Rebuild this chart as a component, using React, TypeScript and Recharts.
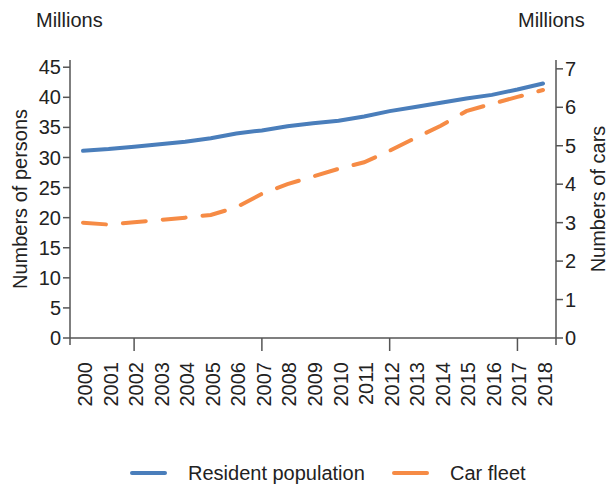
import { LineChart, Line, XAxis, YAxis, Label } from 'recharts';

const years = ['2000', '2001', '2002', '2003', '2004', '2005', '2006', '2007', '2008', '2009', '2010', '2011', '2012', '2013', '2014', '2015', '2016', '2017', '2018'];
const residentPopulation = [31.1, 31.4, 31.8, 32.2, 32.6, 33.2, 34.0, 34.5, 35.2, 35.7, 36.1, 36.8, 37.7, 38.4, 39.1, 39.8, 40.4, 41.3, 42.3];
const carFleet = [3.0, 2.95, 3.01, 3.07, 3.13, 3.2, 3.4, 3.75, 4.0, 4.2, 4.4, 4.57, 4.87, 5.2, 5.52, 5.9, 6.09, 6.27, 6.45];
const leftTicks = [0, 5, 10, 15, 20, 25, 30, 35, 40, 45];
const rightTicks = [0, 1, 2, 3, 4, 5, 6, 7];
const markedYears = ['2002', '2007', '2012', '2017'];

const FONT = '"Liberation Sans", Arial, sans-serif';
const TEXT = '#222';
const AXIS = '#555';
const BLUE = '#4a7ebb';
const ORANGE = '#f68b45';
const PAD = 13;

const data = years.map((year, i) => ({
  year,
  population: residentPopulation[i],
  cars: carFleet[i],
}));

function YearTick({ x, y, payload, index }: any) {
  const marked = markedYears.includes(payload.value);
  // the y axes run a little past the x axis, like the original
  let edge = null;
  if (index === 0) edge = x - PAD;
  if (index === years.length - 1) edge = x + PAD;
  return (
    <g>
      {marked && <line x1={x} x2={x} y1={y} y2={y + 13} stroke={AXIS} strokeWidth={1.5} />}
      {edge !== null && <line x1={edge} x2={edge} y1={y} y2={y + 7} stroke={AXIS} strokeWidth={1.5} />}
      <text
        transform={`translate(${x + 2},${y + 24}) rotate(-90)`}
        textAnchor="end"
        dy="0.35em"
        fontSize={20}
        fontFamily={FONT}
        fill={TEXT}
      >
        {payload.value}
      </text>
    </g>
  );
}

function LeftTitle({ viewBox }: any) {
  const cy = viewBox.y + viewBox.height / 2;
  return (
    <g fontFamily={FONT} fontSize={20} fill={TEXT}>
      <text transform={`translate(27,${cy}) rotate(-90)`} textAnchor="middle">
        Numbers of persons
      </text>
      <text x={36} y={27}>Millions</text>
    </g>
  );
}

function RightTitle({ viewBox }: any) {
  const cy = viewBox.y + viewBox.height / 2;
  return (
    <g fontFamily={FONT} fontSize={20} fill={TEXT}>
      <text transform={`translate(605,${cy}) rotate(-90)`} textAnchor="middle">
        Numbers of cars
      </text>
      <text x={518} y={27}>Millions</text>
    </g>
  );
}

export default function App() {
  return (
    <div style={{ position: 'absolute', left: 0, top: 0, width: 608, height: 484, background: '#fff' }}>
      <LineChart width={608} height={484} data={data} margin={{ top: 60, right: 0, bottom: 0, left: 0 }}>
        <XAxis
          dataKey="year"
          height={146}
          interval={0}
          padding={{ left: PAD, right: PAD }}
          tickLine={false}
          tickSize={0}
          tickMargin={0}
          tick={<YearTick />}
          stroke={AXIS}
          strokeWidth={1.5}
        />
        <YAxis
          yAxisId="left"
          width={70}
          domain={[0, 46.2]}
          ticks={leftTicks}
          tickSize={7}
          tick={{ fontSize: 20, fill: TEXT, fontFamily: FONT }}
          stroke={AXIS}
          strokeWidth={1.5}
        >
          <Label content={<LeftTitle />} />
        </YAxis>
        <YAxis
          yAxisId="right"
          orientation="right"
          width={52}
          domain={[0, 7.23]}
          ticks={rightTicks}
          tickSize={7}
          tick={{ fontSize: 20, fill: TEXT, fontFamily: FONT }}
          stroke={AXIS}
          strokeWidth={1.5}
        >
          <Label content={<RightTitle />} />
        </YAxis>
        <Line
          yAxisId="left"
          type="linear"
          dataKey="population"
          name="Resident population"
          stroke={BLUE}
          strokeWidth={4}
          strokeLinecap="round"
          dot={false}
          activeDot={false}
          isAnimationActive={false}
        />
        <Line
          yAxisId="right"
          type="linear"
          dataKey="cars"
          name="Car fleet"
          stroke={ORANGE}
          strokeWidth={4}
          strokeLinecap="round"
          strokeDasharray="23 17"
          dot={false}
          activeDot={false}
          isAnimationActive={false}
        />
      </LineChart>
      <svg width={608} height={34} style={{ position: 'absolute', left: 0, top: 450 }}>
        <g fontFamily={FONT} fontSize={20} fill={TEXT}>
          <line x1={132} x2={165} y1={23} y2={23} stroke={BLUE} strokeWidth={4} strokeLinecap="round" />
          <text x={188} y={30}>Resident population</text>
          <line x1={394} x2={427} y1={23} y2={23} stroke={ORANGE} strokeWidth={4} strokeLinecap="round" />
          <text x={450} y={30}>Car fleet</text>
        </g>
      </svg>
    </div>
  );
}
